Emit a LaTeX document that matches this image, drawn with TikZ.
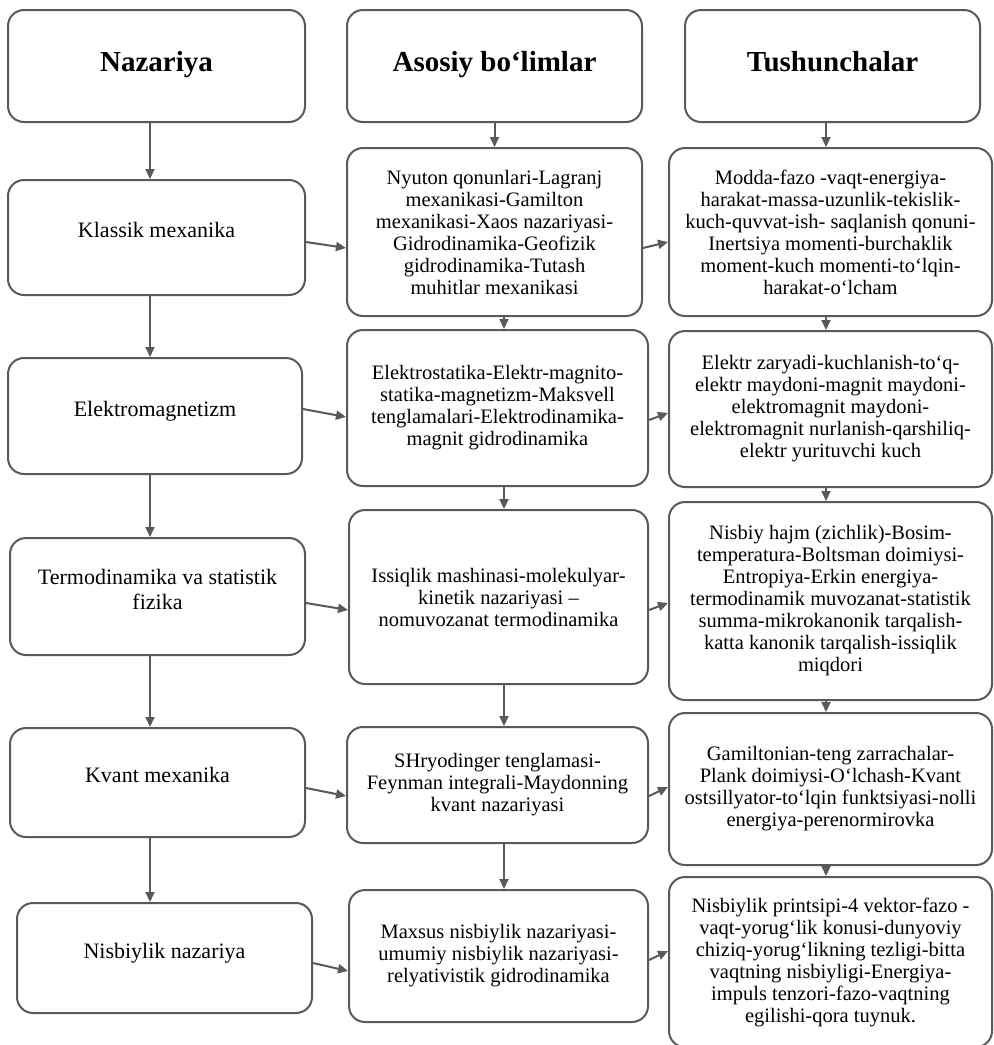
\documentclass[tikz,border=0pt]{standalone}
\usepackage{fontspec}
\setmainfont{Liberation Serif}
\usetikzlibrary{arrows.meta}

\begin{document}
\begin{tikzpicture}[x=0.5pt,y=-0.5pt]

		\definecolor{edgegray}{HTML}{595959}
		\tikzstyle{box}=[draw=edgegray,line width=1pt,rounded corners=8pt,align=center,inner sep=0pt]
		\tikzstyle{head}=[box,font=\fontsize{14.5}{16}\selectfont\bfseries,text height=10pt,text depth=5pt]
		\tikzstyle{theory}=[box,font=\fontsize{11}{12.5}\selectfont,text depth=7.5pt]
		\tikzstyle{part}=[box,font=\fontsize{10.25}{11}\selectfont]
		\tikzstyle{flow}=[draw=edgegray,line width=1pt,arrows={-Triangle[length=5pt,width=4.5pt]}]

		\fill[white] (0,0) rectangle (994,1045);
		\useasboundingbox (0,0) rectangle (994,1045);

		\coordinate (colL) at (150,0);
		\coordinate (colM) at (504,0);
		\coordinate (colR) at (826,0);

		\node[head,minimum width=148.5pt,minimum height=56pt] (hN) at (156.5,66) {Nazariya};
		\node[head,minimum width=147.5pt,minimum height=56pt] (hM) at (494.5,66) {Asosiy bo‘limlar};
		\node[head,minimum width=147.5pt,minimum height=56pt] (hT) at (832.5,66) {Tushunchalar};

		\node[theory,minimum width=148.5pt,minimum height=57.5pt] (L1) at (156.5,237.5) {Klassik mexanika};
		\node[theory,minimum width=147pt,minimum height=58pt] (L2) at (155,416) {Elektromagnetizm};
		\node[theory,minimum width=147.5pt,minimum height=58.5pt] (L3) at (157.5,596.5) {Termodinamika va statistik\\fizika};
		\node[theory,minimum width=147.5pt,minimum height=54.5pt] (L4) at (157.5,782.5) {Kvant mexanika};
		\node[theory,minimum width=147.5pt,minimum height=55pt] (L5) at (164.5,958) {Nisbiylik nazariya};

		\node[part,minimum width=147.5pt,minimum height=84pt] (M1) at (494.5,232) {Nyuton qonunlari-Lagranj\\mexanikasi-Gamilton\\mexanikasi-Xaos nazariyasi-\\Gidrodinamika-Geofizik\\gidrodinamika-Tutash\\muhitlar mexanikasi};
		\node[part,minimum width=150.5pt,minimum height=78pt] (M2) at (497.5,408) {Elektrostatika-Elektr-magnito-\\statika-magnetizm-Maksvell\\tenglamalari-Elektrodinamika-\\magnit gidrodinamika};
		\node[part,minimum width=149.5pt,minimum height=87pt] (M3) at (498.5,597) {Issiqlik mashinasi-molekulyar-\\kinetik nazariyasi –\\nomuvozanat termodinamika};
		\node[part,minimum width=150.5pt,minimum height=58pt] (M4) at (497.5,785) {SHryodinger tenglamasi-\\Feynman integrali-Maydonning\\kvant nazariyasi};
		\node[part,minimum width=149.5pt,minimum height=66pt] (M5) at (498.5,956) {Maxsus nisbiylik nazariyasi-\\umumiy nisbiylik nazariyasi-\\relyativistik gidrodinamika};

		\node[part,minimum width=161.5pt,minimum height=84pt] (T1) at (830.5,232) {Modda-fazo -vaqt-energiya-\\harakat-massa-uzunlik-tekislik-\\kuch-quvvat-ish- saqlanish qonuni-\\Inertsiya momenti-burchaklik\\moment-kuch momenti-to‘lqin-\\harakat-o‘lcham};
		\node[part,minimum width=161.5pt,minimum height=78pt] (T2) at (830.5,409) {Elektr zaryadi-kuchlanish-to‘q-\\elektr maydoni-magnit maydoni-\\elektromagnit maydoni-\\elektromagnit nurlanish-qarshiliq-\\elektr yurituvchi kuch};
		\node[part,minimum width=161.5pt,minimum height=99pt] (T3) at (830.5,601) {Nisbiy hajm (zichlik)-Bosim-\\temperatura-Boltsman doimiysi-\\Entropiya-Erkin energiya-\\termodinamik muvozanat-statistik\\summa-mikrokanonik tarqalish-\\katta kanonik tarqalish-issiqlik\\miqdori};
		\node[part,minimum width=161.5pt,minimum height=76pt] (T4) at (830.5,789) {Gamiltonian-teng zarrachalar-\\Plank doimiysi-O‘lchash-Kvant\\ostsillyator-to‘lqin funktsiyasi-nolli\\energiya-perenormirovka};
		\node[part,minimum width=161.5pt,minimum height=85pt] (T5) at (830.5,962) {Nisbiylik printsipi-4 vektor-fazo -\\vaqt-yorug‘lik konusi-dunyoviy\\chiziq-yorug‘likning tezligi-bitta\\vaqtning nisbiyligi-Energiya-\\impuls tenzori-fazo-vaqtning\\egilishi-qora tuynuk.};

		\foreach \a/\b in {hN/L1,L1/L2,L2/L3,L3/L4,L4/L5}
			\draw[flow] (\a.south -| colL) -- (\b.north -| colL);
		\draw[flow] (hM.south) -- (M1.north -| hM.south);
		\foreach \a/\b in {M1/M2,M2/M3,M3/M4,M4/M5}
			\draw[flow] (\a.south -| colM) -- (\b.north -| colM);
		\foreach \a/\b in {hT/T1,T1/T2,T2/T3,T3/T4,T4/T5}
			\draw[flow] (\a.south -| colR) -- (\b.north -| colR);

		\foreach \a/\b/\s/\t in {L1/M1/4.5/16,M1/T1/16/10,L2/M2/-7/9,M2/T2/12/4,L3/M3/6.5/13,M3/T3/13/2,L4/M4/5.5/11,M4/T4/11/-2,L5/M5/5/15,M5/T5/4/-11}
			\draw[flow] ([shift={(0,\s)}]\a.east) -- ([shift={(0,\t)}]\b.west);

\end{tikzpicture}
\end{document}
